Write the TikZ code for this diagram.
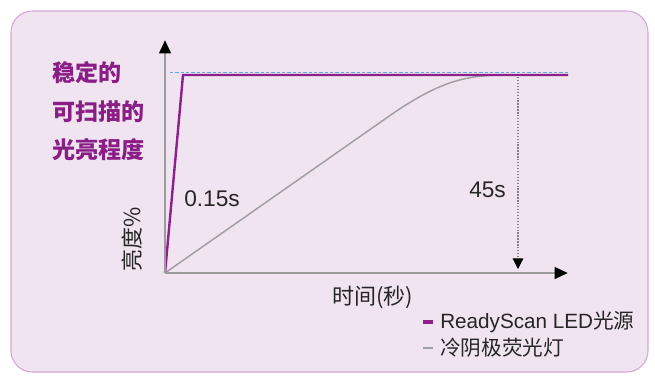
\documentclass[tikz,border=0pt]{standalone}
\usepackage{fontspec}
\setmainfont{Liberation Sans}
\newfontfamily\cjk{Noto Sans CJK SC}
\usetikzlibrary{arrows.meta}
\definecolor{bgfill}{HTML}{EFE4F0}
\definecolor{bgline}{HTML}{D6A6D8}
\definecolor{ledpurple}{HTML}{8E1F8E}
\definecolor{lblpurple}{HTML}{8A1E86}
\definecolor{refblue}{HTML}{5FA8DC}
\definecolor{ccfl}{HTML}{A0A0A0}
\definecolor{axisgray}{HTML}{9C9C9C}
\tikzset{
  lbl/.style={inner sep=0pt, anchor=west},
  purplelbl/.style={lbl, text=lblpurple, font=\cjk\bfseries\fontsize{17.3pt}{19pt}\selectfont},
  numlbl/.style={lbl, text=black!85, font=\fontsize{17pt}{19pt}\selectfont},
  axislbl/.style={inner sep=0pt, text=black!85, font=\cjk\fontsize{16.5pt}{18pt}\selectfont},
  leglbl/.style={lbl, text=black!85, font=\fontsize{15.5pt}{17pt}\selectfont},
  axisline/.style={draw=axisgray, line width=2.2pt, -{Triangle[length=10pt,width=8.5pt,black]}},
  ledline/.style={draw=ledpurple, line width=1.8pt, line join=miter},
  ccflline/.style={draw=ccfl, line width=1.1pt},
  refline/.style={draw=refblue, line width=1.2pt, dash pattern=on 2.5pt off 1.5pt},
  markline/.style={draw=gray, line width=0.8pt, dash pattern=on 1pt off 1.2pt, -{Triangle[length=8pt,width=8pt,black]}}
}
\begin{document}
\begin{tikzpicture}[x=0.75pt,y=-0.75pt]
\useasboundingbox (0,0) rectangle (655,379);
\draw[draw=bgline, fill=bgfill, line width=0.8pt, rounded corners=16pt] (11,11) rectangle (648,372);

% coordinates
\coordinate (O) at (165,273);
\coordinate (ytop) at (165,40);
\coordinate (xend) at (568,273);
\coordinate (ledtop) at (183,75);
\coordinate (ledend) at (568,75);
\coordinate (refstart) at (170,72.5);
\coordinate (refend) at (568,72.5);
\coordinate (ccflbend) at (395,112);
\coordinate (ccflend) at (505,75);
\coordinate (mtop) at (518,77);
\coordinate (mbot) at (518,269);

% curves
\draw[ccflline] (O) -- (ccflbend) .. controls (440,82) and (465,75) .. (ccflend);
\draw[ledline] (O) -- (ledtop) -- (ledend);
\draw[refline] (refstart) -- (refend);
\draw[markline] (mtop) -- (mbot);

% axes
\draw[axisline] (O) -- (ytop);
\draw[axisline] (O) -- (xend);

% labels
\node[purplelbl] (l1) at (52,73) {稳定的};
\node[purplelbl] (l2) at (52,112) {可扫描的};
\node[purplelbl] (l3) at (52,150) {光亮程度};
\node[numlbl] (t1) at (184,199) {0.15s};
\node[numlbl] (t2) at (469,190) {45s};
\node[axislbl, rotate=90] (ylab) at (132.5,239) {亮度\%};
\node[axislbl, anchor=west] (xlab) at (332,297) {时间(秒)};

% legend
\coordinate (lg1a) at (423,322);
\coordinate (lg1b) at (433,322);
\coordinate (lg2a) at (423,348);
\coordinate (lg2b) at (433,348);
\draw[draw=ledpurple, line width=2.5pt] (lg1a) -- (lg1b);
\draw[draw=ccfl, line width=1.2pt] (lg2a) -- (lg2b);
\node[leglbl] (leg1) at (440,322) {ReadyScan LED{\cjk 光源}};
\node[leglbl] (leg2) at (440,348) {\cjk 冷阴极荧光灯};
\end{tikzpicture}
\end{document}
